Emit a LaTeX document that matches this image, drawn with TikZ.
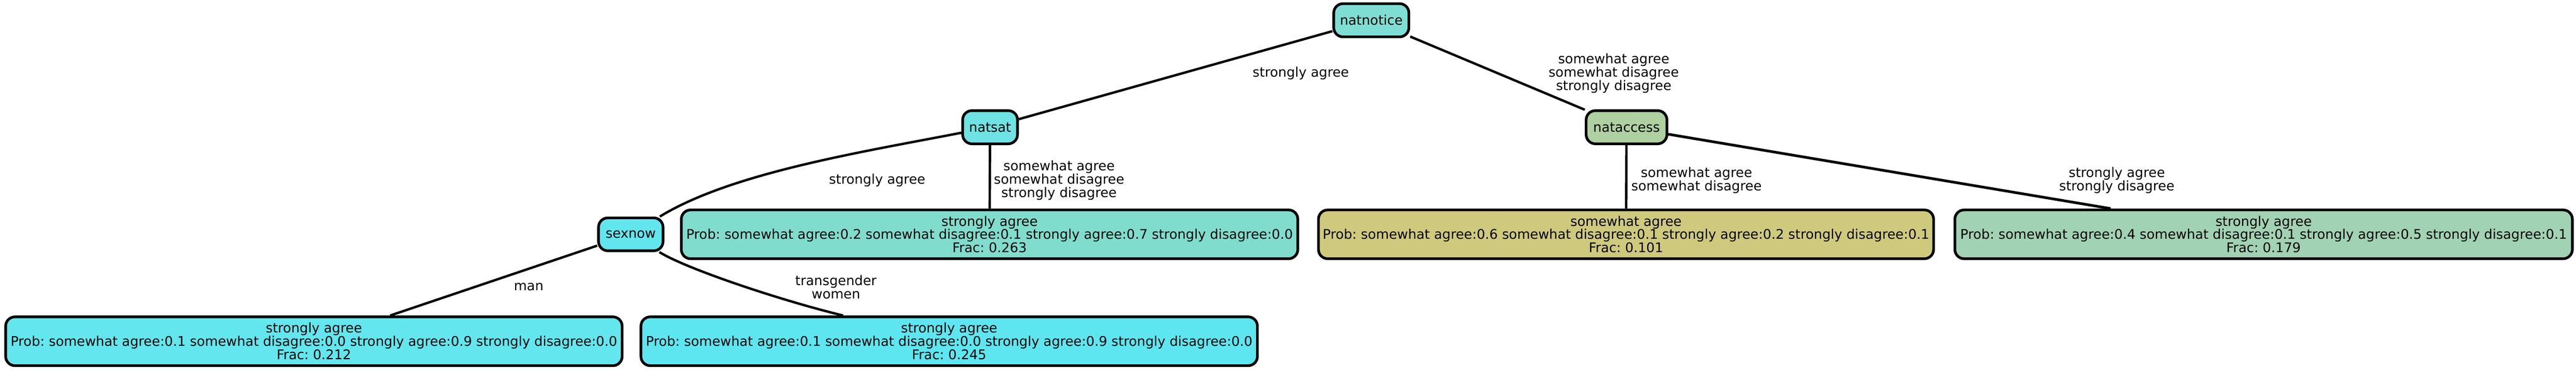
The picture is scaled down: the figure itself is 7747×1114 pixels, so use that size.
\documentclass[tikz,border=0pt]{standalone}
\usepackage{fontspec}
\setmainfont{DejaVu Sans}
\frenchspacing
\definecolor{cnn}{HTML}{7FDED3}
\definecolor{cns}{HTML}{6FE3E3}
\definecolor{csx}{HTML}{62E6EE}
\definecolor{clone}{HTML}{63E6EE}
\definecolor{cltwo}{HTML}{5EE6F0}
\definecolor{cnsl}{HTML}{80DDCE}
\definecolor{cna}{HTML}{AFD0A0}
\definecolor{cnalone}{HTML}{CFC97E}
\definecolor{cnaltwo}{HTML}{A1D2B4}
\begin{document}
\begin{tikzpicture}[x=0.25pt,y=-0.25pt,
  every node/.style={font=\fontsize{10}{10}\selectfont\frenchspacing},
  box/.style={draw=black, line width=2pt, rounded corners=7pt, inner sep=0pt, align=center},
  leafbox/.style={box, minimum width=463.5pt, minimum height=36.75pt},
  edgeline/.style={line width=1.8pt, draw=black},
  lbl/.style={align=center, inner sep=0pt}]
\useasboundingbox (0,0) rectangle (7747,1114);
% inner nodes
\node[box, fill=cnn, minimum width=56.5pt, minimum height=25pt] (nn) at (4124,61) {natnotice};
\node[box, fill=cns, minimum width=41.25pt, minimum height=25pt] (ns) at (2977.5,383) {natsat};
\node[box, fill=cna, minimum width=60.75pt, minimum height=25pt] (na) at (4891.5,383) {nataccess};
\node[box, fill=csx, minimum width=48.5pt, minimum height=24.75pt] (sx) at (1897,705.5) {sexnow};
% leaves
\node[leafbox, fill=cnsl] (nsl) at (2976,705.5) {strongly agree\\Prob: somewhat agree:0.2 somewhat disagree:0.1 strongly agree:0.7 strongly disagree:0.0\\Frac: 0.263};
\node[leafbox, fill=clone] (lone) at (944,1027.5) {strongly agree\\Prob: somewhat agree:0.1 somewhat disagree:0.0 strongly agree:0.9 strongly disagree:0.0\\Frac: 0.212};
\node[leafbox, fill=cltwo] (ltwo) at (2854.5,1027.5) {strongly agree\\Prob: somewhat agree:0.1 somewhat disagree:0.0 strongly agree:0.9 strongly disagree:0.0\\Frac: 0.245};
\node[leafbox, fill=cnalone, minimum width=462.5pt] (nalone) at (4890,705.5) {somewhat agree\\Prob: somewhat agree:0.6 somewhat disagree:0.1 strongly agree:0.2 strongly disagree:0.1\\Frac: 0.101};
\node[leafbox, fill=cnaltwo, minimum width=464.25pt] (naltwo) at (6807.5,705.5) {strongly agree\\Prob: somewhat agree:0.4 somewhat disagree:0.1 strongly agree:0.5 strongly disagree:0.1\\Frac: 0.179};
% edges
\draw[edgeline] (nn) -- (ns);
\draw[edgeline] (nn) -- (na);
\draw[edgeline] (ns) .. controls (2591,458) and (2200,520) .. (sx);
\draw[edgeline] (ns) -- (nsl);
\draw[edgeline] (sx) -- (lone);
\draw[edgeline] (sx) .. controls (2065,810) and (2350,905) .. (ltwo);
\draw[edgeline] (na) -- (nalone);
\draw[edgeline, line width=2pt] (na) -- (naltwo);
% edge labels
\node[lbl] (lbnnns) at (3912,220) {strongly agree};
\node[lbl] (lbnnna) at (4853,221) {somewhat agree\\somewhat disagree\\strongly disagree};
\node[lbl] (lbnssx) at (2638,543) {strongly agree};
\node[lbl] (lbnsl) at (3185,543) {somewhat agree\\somewhat disagree\\strongly disagree};
\node[lbl] (lbman) at (1590,864) {man};
\node[lbl] (lbtw) at (2514,864) {transgender\\women};
\node[lbl] (lbnaone) at (5102,543) {somewhat agree\\somewhat disagree};
\node[lbl] (lbnatwo) at (6366,543) {strongly agree\\strongly disagree};
\end{tikzpicture}
\end{document}
